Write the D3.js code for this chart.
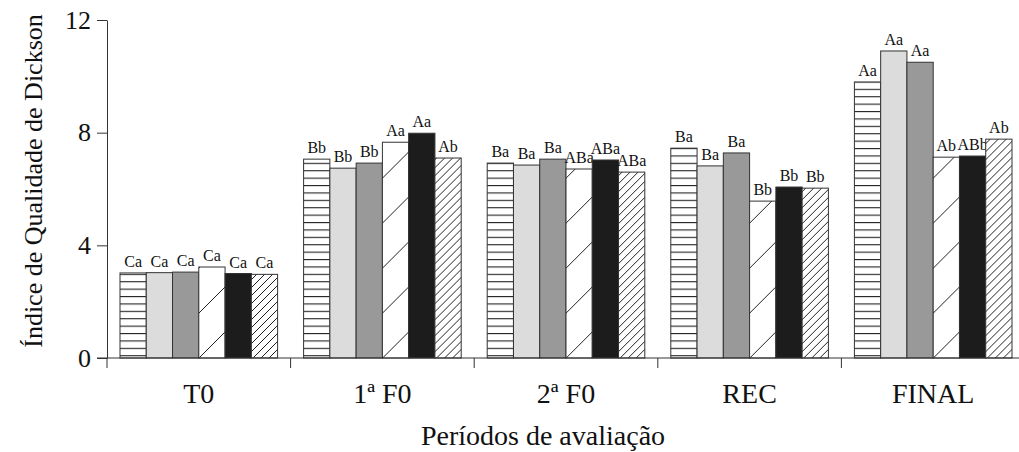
<!DOCTYPE html>
<html><head><meta charset="utf-8">
<script src="https://cdn.jsdelivr.net/npm/d3@7"></script>
<style>body{margin:0;background:#fff}svg{display:block}</style>
</head><body><svg id="c" width="1019" height="452"></svg>
<script>
const categories = ["T0", "1ª F0", "2ª F0", "REC", "FINAL"];
const seriesNames = ["s1", "s2", "s3", "s4", "s5", "s6"];
const values = [
  [3.02, 3.03, 3.05, 3.23, 3.00, 2.97],
  [7.06, 6.74, 6.92, 7.66, 7.98, 7.10],
  [6.92, 6.85, 7.06, 6.71, 7.03, 6.60],
  [7.45, 6.82, 7.28, 5.57, 6.07, 6.03],
  [9.80, 10.90, 10.50, 7.13, 7.17, 7.77]
];
const letters = [
  ["Ca", "Ca", "Ca", "Ca", "Ca", "Ca"],
  ["Bb", "Bb", "Bb", "Aa", "Aa", "Ab"],
  ["Ba", "Ba", "Ba", "ABa", "ABa", "ABa"],
  ["Ba", "Ba", "Ba", "Bb", "Bb", "Bb"],
  ["Aa", "Aa", "Aa", "Ab", "ABb", "Ab"]
];
const yTicks = [0, 4, 8, 12];

const svg = d3.select("#c");
const font = "'Liberation Serif', 'Times New Roman', serif";
const defs = svg.append("defs");
// horizontal lines
const p1 = defs.append("pattern").attr("id","hl").attr("patternUnits","userSpaceOnUse").attr("width",10).attr("height",7.4);
p1.append("rect").attr("width",10).attr("height",7.4).attr("fill","#fff");
p1.append("line").attr("x1",0).attr("x2",10).attr("y1",0.5).attr("y2",0.5).attr("stroke","#222").attr("stroke-width",1.2);
// sparse diagonal
const p4 = defs.append("pattern").attr("id","sd").attr("patternUnits","userSpaceOnUse").attr("width",45).attr("height",45);
p4.append("rect").attr("width",45).attr("height",45).attr("fill","#fff");
p4.append("line").attr("x1",0).attr("y1",45).attr("x2",45).attr("y2",0).attr("stroke","#222").attr("stroke-width",1);
p4.append("line").attr("x1",-5).attr("y1",5).attr("x2",5).attr("y2",-5).attr("stroke","#222").attr("stroke-width",1);
p4.append("line").attr("x1",40).attr("y1",50).attr("x2",50).attr("y2",40).attr("stroke","#222").attr("stroke-width",1);
// dense diagonal
const p6 = defs.append("pattern").attr("id","dd").attr("patternUnits","userSpaceOnUse").attr("width",8).attr("height",8);
p6.append("rect").attr("width",8).attr("height",8).attr("fill","#fff");
p6.append("path").attr("d","M0,8 L8,0 M-2,2 L2,-2 M6,10 L10,6").attr("stroke","#222").attr("stroke-width",1);

const fills = ["url(#hl)", "#dcdcdc", "#999999", "url(#sd)", "#1c1c1c", "url(#dd)"];

const x0 = d3.scaleBand().domain(categories).range([107, 1025]).paddingInner(0).paddingOuter(0);
const x1 = d3.scaleBand().domain(seriesNames).range([13, x0.bandwidth() - 13]).padding(0);
const y = d3.scaleLinear().domain([0, 12]).range([358, 20]);

const g = svg.append("g");
categories.forEach((c, ci) => {
  const gg = g.append("g").attr("transform", `translate(${x0(c)},0)`);
  seriesNames.forEach((s, si) => {
    const v = values[ci][si];
    gg.append("rect").attr("x", x1(s)).attr("y", y(v)).attr("width", x1.bandwidth()).attr("height", y(0) - y(v))
      .attr("fill", fills[si]).attr("stroke", "#333").attr("stroke-width", 1);
    gg.append("text").attr("x", x1(s) + x1.bandwidth() / 2).attr("y", y(v) - 6).attr("text-anchor", "middle")
      .attr("font-family", font).attr("font-size", 16).attr("fill", "#111").text(letters[ci][si]);
  });
});

// y axis
const ya = svg.append("g").attr("transform", "translate(107,0)")
  .call(d3.axisLeft(y).tickValues(yTicks).tickSize(10).tickSizeOuter(0).tickPadding(6));
ya.select(".domain").attr("stroke", "#333");
ya.selectAll(".tick line").attr("stroke", "#333");
ya.selectAll(".tick text").attr("font-family", font).attr("font-size", 26).attr("fill", "#111");

// x axis baseline and boundary ticks
svg.append("line").attr("x1", 97).attr("x2", 1019).attr("y1", y(0)).attr("y2", y(0)).attr("stroke", "#333");
svg.append("line").attr("x1", 107).attr("x2", 107).attr("y1", y(0)).attr("y2", y(0) + 10).attr("stroke", "#333");
categories.forEach(c => {
  const xe = x0(c) + x0.bandwidth();
  svg.append("line").attr("x1", xe).attr("x2", xe).attr("y1", y(0)).attr("y2", y(0) + 10).attr("stroke", "#333");
  svg.append("text").attr("x", x0(c) + x0.bandwidth() / 2).attr("y", 403).attr("text-anchor", "middle")
    .attr("font-family", font).attr("font-size", 28).attr("fill", "#111").text(c);
});

svg.append("text").attr("x", 543).attr("y", 445).attr("text-anchor", "middle")
  .attr("font-family", font).attr("font-size", 28).attr("fill", "#111").text("Períodos de avaliação");
svg.append("text").attr("transform", "translate(42,181) rotate(-90)").attr("text-anchor", "middle")
  .attr("font-family", font).attr("font-size", 26).attr("fill", "#111").text("Índice de Qualidade de Dickson");
</script></body></html>
